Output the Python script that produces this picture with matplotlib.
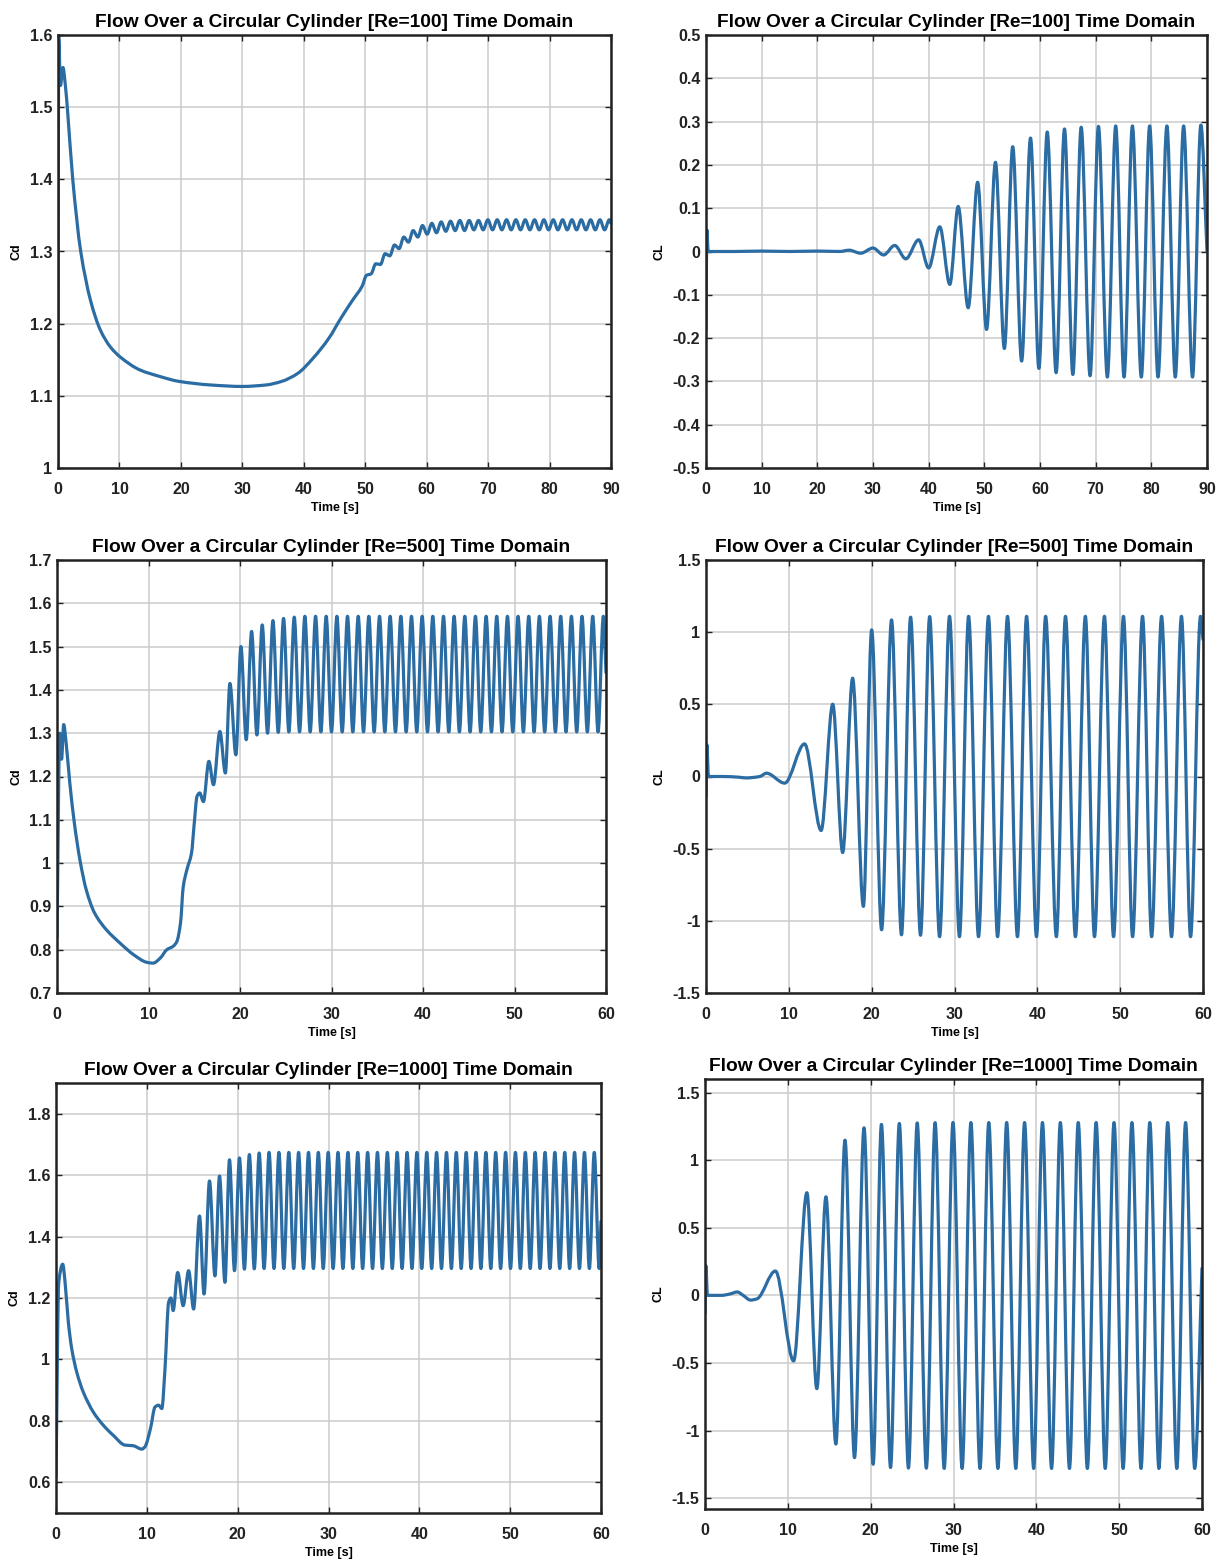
import matplotlib
matplotlib.use('Agg')
import matplotlib.pyplot as plt
from matplotlib.path import Path
from matplotlib.patches import PathPatch

plt.rcParams['font.family'] = ['Liberation Sans', 'DejaVu Sans']

W, H = 1217, 1564
LINE = '#2b6ca3'

### values (turning points of the signals)

# Re=100, drag coefficient
cd100_t = [0, 0.1, 0.4, 0.8, 1.2, 1.6, 2.4, 3.7, 5.3, 6.9, 8.5, 10.1, 13.3, 16.5,
           19.7, 24.9, 30, 33.8, 36.4, 39, 41.5, 44.1, 46, 47.9, 49.5,
           50.2, 50.96, 51.72, 52.48, 53.24, 54.0, 54.76, 55.52, 56.28, 57.04,
           57.8, 58.56, 59.32, 60.08, 60.84, 61.6, 62.36, 63.12, 63.88, 64.64,
           65.4, 66.16, 66.92, 67.68, 68.44, 69.2, 69.96, 70.72, 71.48, 72.24,
           73.0, 73.76, 74.52, 75.28, 76.04, 76.8, 77.56, 78.32, 79.08, 79.84,
           80.6, 81.36, 82.12, 82.88, 83.64, 84.4, 85.16, 85.92, 86.68, 87.44,
           88.2, 88.96, 89.72, 90]
cd100_v = [1.0, 1.6, 1.53, 1.555, 1.53, 1.49, 1.4, 1.30, 1.232, 1.191, 1.168, 1.154, 1.136, 1.127,
           1.12, 1.115, 1.113, 1.115, 1.12, 1.131, 1.152, 1.18, 1.207, 1.232, 1.252,
           1.267, 1.269, 1.283, 1.282, 1.297, 1.294, 1.309, 1.304, 1.320, 1.313,
           1.329, 1.320, 1.336, 1.324, 1.339, 1.326, 1.341, 1.328, 1.342, 1.329,
           1.343, 1.329, 1.343, 1.330, 1.343, 1.330, 1.344, 1.330, 1.344, 1.330,
           1.344, 1.330, 1.344, 1.330, 1.344, 1.330, 1.344, 1.330, 1.344, 1.330,
           1.344, 1.330, 1.344, 1.330, 1.344, 1.330, 1.344, 1.330, 1.344, 1.330,
           1.344, 1.330, 1.344, 1.339]

# Re=100, lift coefficient
cl100_t = [0, 0.15, 0.4, 5, 10, 15, 20, 24, 25.7, 27.8, 30, 31.9, 33.9, 35.9,
           38.2, 40, 42, 43.8, 45.3, 47.1, 48.8, 50.4, 52, 53.6, 55.1, 56.7,
           58.3, 59.8, 61.3, 62.9, 64.4, 65.9, 67.4, 69.0, 70.5, 72.1, 73.6,
           75.1, 76.6, 78.2, 79.7, 81.2, 82.8, 84.3, 85.8, 87.4, 88.9, 90]
cl100_v = [-0.18, 0.05, 0.0, 0.0, 0.001, 0.0, 0.001, 0.0, 0.003, -0.004, 0.008, -0.008, 0.014, -0.017,
           0.027, -0.038, 0.057, -0.076, 0.104, -0.13, 0.16, -0.18, 0.206, -0.224, 0.242, -0.253,
           0.262, -0.27, 0.276, -0.28, 0.283, -0.284, 0.287, -0.287, 0.289, -0.29, 0.29,
           -0.29, 0.29, -0.29, 0.29, -0.29, 0.29, -0.29, 0.29, -0.29, 0.292, 0.0]

# Re=500, drag coefficient
cd500_t = [0, 0.3, 0.5, 0.73, 1.0, 1.4, 1.9, 2.5, 3.2, 4.1, 5.4, 6.9, 8.4, 9.8,
           10.5, 11.3, 12.0, 12.7, 13.1, 13.5, 13.8, 14.2, 14.7, 15.0, 15.3, 15.6,
           16.0, 16.6, 17.1, 17.8, 18.4, 18.9, 19.55,
           20.10, 20.68, 21.27, 21.85, 22.43, 23.01, 23.60, 24.18, 24.76, 25.34,
           25.93, 26.51, 27.09, 27.67, 28.26, 28.84, 29.42, 30.00, 30.59, 31.17,
           31.75, 32.33, 32.92, 33.50, 34.08, 34.66, 35.25, 35.83, 36.41, 36.99,
           37.58, 38.16, 38.74, 39.32, 39.91, 40.49, 41.07, 41.65, 42.24, 42.82,
           43.40, 43.98, 44.57, 45.15, 45.73, 46.31, 46.90, 47.48, 48.06, 48.64,
           49.23, 49.81, 50.39, 50.97, 51.56, 52.14, 52.72, 53.30, 53.89, 54.47,
           55.05, 55.63, 56.22, 56.80, 57.38, 57.96, 58.55, 59.13, 59.71, 60]
cd500_v = [0.83, 1.30, 1.24, 1.32, 1.277, 1.185, 1.092, 1.008, 0.938, 0.885, 0.846, 0.815, 0.788, 0.771,
           0.769, 0.781, 0.80, 0.808, 0.819, 0.862, 0.946, 0.985, 1.023, 1.092, 1.154, 1.162,
           1.142, 1.235, 1.181, 1.304, 1.208, 1.415, 1.25,
           1.50, 1.285, 1.535, 1.296, 1.55, 1.30, 1.56, 1.302, 1.565, 1.303,
           1.568, 1.303, 1.57, 1.303, 1.57, 1.303, 1.57, 1.303, 1.57, 1.303,
           1.57, 1.303, 1.57, 1.303, 1.57, 1.303, 1.57, 1.303, 1.57, 1.303,
           1.57, 1.303, 1.57, 1.303, 1.57, 1.303, 1.57, 1.303, 1.57, 1.303,
           1.57, 1.303, 1.57, 1.303, 1.57, 1.303, 1.57, 1.303, 1.57, 1.303,
           1.57, 1.303, 1.57, 1.303, 1.57, 1.303, 1.57, 1.303, 1.57, 1.303,
           1.57, 1.303, 1.57, 1.303, 1.57, 1.303, 1.57, 1.303, 1.57, 1.44]

# Re=500, lift coefficient
cl500_t = [0, 0.1, 0.3, 2, 4, 4.8, 6.5, 7.3, 9.5, 11.9, 13.9, 15.3, 16.5, 17.7,
           19.0, 20.0, 21.2, 22.4, 23.6, 24.7, 25.9, 27.0, 28.2, 29.4, 30.6,
           31.7, 32.9, 34.1, 35.2, 36.4, 37.6, 38.7, 39.9, 41.0, 42.3, 43.4,
           44.6, 45.8, 46.9, 48.1, 49.2, 50.4, 51.5, 52.7, 53.8, 55.0, 56.2,
           57.4, 58.5, 59.7, 60]
cl500_v = [-0.14, 0.22, 0.0, 0.0, -0.005, -0.01, 0.0, 0.023, -0.046, 0.226, -0.374, 0.501, -0.527, 0.681,
           -0.90, 1.016, -1.062, 1.085, -1.097, 1.104, -1.10, 1.108, -1.11, 1.11, -1.11,
           1.11, -1.11, 1.11, -1.11, 1.11, -1.11, 1.11, -1.11, 1.11, -1.11, 1.11,
           -1.11, 1.11, -1.11, 1.11, -1.11, 1.11, -1.11, 1.11, -1.11, 1.11, -1.11,
           1.11, -1.11, 1.11, 0.95]

# Re=1000, drag coefficient
cd1000_t = [0, 0.3, 0.74, 1.0, 1.36, 1.73, 2.28, 3.0, 4.1, 5.2, 6.3, 7.6, 8.5, 9.45,
            9.8, 10.4, 10.9, 11.3, 11.65, 12.0, 12.4, 12.65, 12.9, 13.4, 14.0, 14.6,
            15.15, 15.8, 16.3, 16.9, 17.5, 18.0, 18.6, 19.1, 19.65,
            20.20, 20.74, 21.29, 21.83, 22.37, 22.91, 23.46, 24.00, 24.54, 25.08,
            25.63, 26.17, 26.71, 27.25, 27.80, 28.34, 28.88, 29.42, 29.97, 30.51,
            31.05, 31.59, 32.14, 32.68, 33.22, 33.76, 34.31, 34.85, 35.39, 35.93,
            36.48, 37.02, 37.56, 38.10, 38.65, 39.19, 39.73, 40.27, 40.82, 41.36,
            41.90, 42.44, 42.99, 43.53, 44.07, 44.61, 45.16, 45.70, 46.24, 46.78,
            47.33, 47.87, 48.41, 48.95, 49.50, 50.04, 50.58, 51.12, 51.67, 52.21,
            52.75, 53.29, 53.84, 54.38, 54.92, 55.46, 56.01, 56.55, 57.09, 57.63,
            58.18, 58.72, 59.26, 59.80, 60]
cd1000_v = [0.62, 1.25, 1.31, 1.251, 1.121, 1.035, 0.959, 0.894, 0.829, 0.786, 0.753, 0.721, 0.719, 0.708,
            0.716, 0.775, 0.845, 0.851, 0.84, 0.97, 1.186, 1.20, 1.159, 1.283, 1.175, 1.289,
            1.164, 1.467, 1.213, 1.581, 1.272, 1.597, 1.251, 1.65, 1.289,
            1.656, 1.294, 1.667, 1.295, 1.672, 1.296, 1.674, 1.296, 1.674, 1.296,
            1.674, 1.296, 1.674, 1.296, 1.674, 1.296, 1.674, 1.296, 1.674, 1.296,
            1.674, 1.296, 1.674, 1.296, 1.674, 1.296, 1.674, 1.296, 1.674, 1.296,
            1.674, 1.296, 1.674, 1.296, 1.674, 1.296, 1.674, 1.296, 1.674, 1.296,
            1.674, 1.296, 1.674, 1.296, 1.674, 1.296, 1.674, 1.296, 1.674, 1.296,
            1.674, 1.296, 1.674, 1.296, 1.674, 1.296, 1.674, 1.296, 1.674, 1.296,
            1.674, 1.296, 1.674, 1.296, 1.674, 1.296, 1.674, 1.296, 1.674, 1.296,
            1.674, 1.296, 1.674, 1.296, 1.45]

# Re=1000, lift coefficient
cl1000_t = [0, 0.1, 0.3, 2.0, 3.0, 3.9, 4.6, 5.5, 6.3, 8.5, 10.7, 12.3, 13.5, 14.6,
            15.8, 16.9, 18.05, 19.2, 20.3,
            21.3, 22.4, 23.46, 24.56, 25.62, 26.72, 27.78, 28.88, 29.94, 31.04,
            32.10, 33.20, 34.26, 35.36, 36.42, 37.52, 38.58, 39.68, 40.74, 41.84,
            42.90, 44.00, 45.06, 46.16, 47.22, 48.32, 49.38, 50.48, 51.54, 52.64,
            53.70, 54.80, 55.86, 56.96, 58.02, 59.12, 60]
cl1000_v = [-0.13, 0.22, 0.0, 0.0, 0.01, 0.025, 0.0, -0.035, -0.025, 0.18, -0.485, 0.759, -0.69, 0.729,
            -1.10, 1.148, -1.20, 1.239, -1.249,
            1.264, -1.273, 1.271, -1.277, 1.275, -1.278, 1.277, -1.28, 1.278, -1.28,
            1.278, -1.28, 1.278, -1.28, 1.278, -1.28, 1.278, -1.28, 1.278, -1.28,
            1.278, -1.28, 1.278, -1.28, 1.278, -1.28, 1.278, -1.28, 1.278, -1.28,
            1.278, -1.28, 1.278, -1.28, 1.278, -1.28, 0.2]

# ticks
xt90 = [0, 10, 20, 30, 40, 50, 60, 70, 80, 90]
xt60 = [0, 10, 20, 30, 40, 50, 60]
yt_cd100 = ['1', '1.1', '1.2', '1.3', '1.4', '1.5', '1.6']
yt_cl100 = ['-0.5', '-0.4', '-0.3', '-0.2', '-0.1', '0', '0.1', '0.2', '0.3', '0.4', '0.5']
yt_cd500 = ['0.7', '0.8', '0.9', '1', '1.1', '1.2', '1.3', '1.4', '1.5', '1.6', '1.7']
yt_cl500 = ['-1.5', '-1', '-0.5', '0', '0.5', '1', '1.5']
yt_cd1000 = ['0.6', '0.8', '1', '1.2', '1.4', '1.6', '1.8']
yt_cl1000 = ['-1.5', '-1', '-0.5', '0', '0.5', '1', '1.5']

titles = ['Flow Over a Circular Cylinder [Re=100] Time Domain',
          'Flow Over a Circular Cylinder [Re=500] Time Domain',
          'Flow Over a Circular Cylinder [Re=1000] Time Domain']


fig = plt.figure(figsize=(W / 100, H / 100), dpi=100)


def smooth_curve(ax, t, v):
    # bezier segments through the read points, flat tangent at the turning points
    n = len(t)
    d = [(v[i + 1] - v[i]) / (t[i + 1] - t[i]) for i in range(n - 1)]
    m = [d[0]]
    for i in range(1, n - 1):
        if d[i - 1] * d[i] <= 0:
            m.append(0.0)
        else:
            m.append(2 * d[i - 1] * d[i] / (d[i - 1] + d[i]))
    m.append(d[-1])
    verts = [(t[0], v[0])]
    codes = [Path.MOVETO]
    for i in range(n - 1):
        h = (t[i + 1] - t[i]) / 3
        verts += [(t[i] + h, v[i] + m[i] * h),
                  (t[i + 1] - h, v[i + 1] - m[i + 1] * h),
                  (t[i + 1], v[i + 1])]
        codes += [Path.CURVE4] * 3
    ax.add_patch(PathPatch(Path(verts, codes), fill=False, ec=LINE, lw=2.3,
                           capstyle='round', joinstyle='round'))


def panel(box, t, v, xlim, ylim, xticks, ylabels, title, ylab):
    # box is left, top, right, bottom in pixels
    l, tp, r, b = box
    ax = fig.add_axes([l / W, 1 - b / H, (r - l) / W, (b - tp) / H])
    smooth_curve(ax, t, v)
    ax.set_xlim(xlim)
    ax.set_ylim(ylim)
    ax.set_xticks(xticks)
    ax.set_xticklabels([str(x) for x in xticks], fontweight='bold')
    ax.set_yticks([float(s) for s in ylabels])
    ax.set_yticklabels(ylabels, fontweight='bold')
    ax.grid(True, color='#cccccc', lw=1.1)
    ax.set_axisbelow(True)
    for s in ax.spines.values():
        s.set_linewidth(1.8)
        s.set_color('#222222')
    ax.tick_params(direction='in', top=True, right=True, length=4, width=1,
                   labelsize=11.5, colors='#222222')
    ax.tick_params(axis='x', pad=10)
    ax.tick_params(axis='y', pad=4)
    ax.set_title(title, fontsize=13.8, fontweight='bold', pad=6)
    ax.set_xlabel('Time [s]', fontsize=9, fontweight='bold', labelpad=4)
    ax.set_ylabel(ylab, fontsize=9, fontweight='bold', labelpad=5)
    return ax


panel((58, 35, 611, 468), cd100_t, cd100_v, (0, 90), (1, 1.6), xt90, yt_cd100, titles[0], 'Cd')
panel((706, 35, 1207, 468), cl100_t, cl100_v, (0, 90), (-0.5, 0.5), xt90, yt_cl100, titles[0], 'CL')
panel((57, 560, 606, 993), cd500_t, cd500_v, (0, 60), (0.7, 1.7), xt60, yt_cd500, titles[1], 'Cd')
panel((706, 560, 1203, 993), cl500_t, cl500_v, (0, 60), (-1.5, 1.5), xt60, yt_cl500, titles[1], 'CL')
panel((56, 1083, 601, 1513), cd1000_t, cd1000_v, (0, 60), (0.5, 1.9), xt60, yt_cd1000, titles[2], 'Cd')
panel((705, 1079, 1202, 1509), cl1000_t, cl1000_v, (0, 60), (-1.58, 1.6), xt60, yt_cl1000, titles[2], 'CL')

fig.savefig('out.png', dpi=100)
